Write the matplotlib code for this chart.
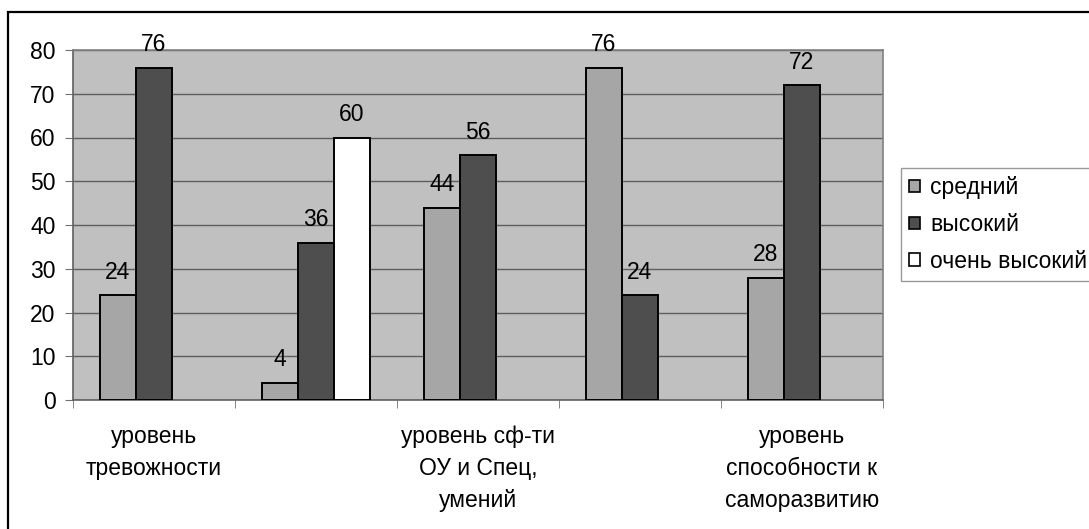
import numpy as np
import matplotlib
matplotlib.use("Agg")
import matplotlib.pyplot as plt
from matplotlib.patches import Patch, Rectangle

plt.rcParams['font.family'] = ['Liberation Sans', 'DejaVu Sans']

categories = ["уровень\nтревожности", "", "уровень сф-ти\nОУ и Спец,\nумений", "", "уровень\nспособности к\nсаморазвитию"]
series_names = ["средний", "высокий", "очень высокий"]
srednij = [24, 4, 44, 76, 28]
vysokij = [76, 36, 56, 24, 72]
ochen_vysokij = [np.nan, 60, np.nan, np.nan, np.nan]
y_ticks = [0, 10, 20, 30, 40, 50, 60, 70, 80]

colors = ["#a6a6a6", "#4e4e4e", "#ffffff"]
W, H = 1089, 529
fig = plt.figure(figsize=(W / 100, H / 100), dpi=100)
fig.patch.set_facecolor("white")

ax = fig.add_axes([73 / W, 1 - 400 / H, 810 / W, 350 / H])
ax.set_facecolor("#c0c0c0")

n = len(categories)
x = np.arange(n)
bw = 1 / 4.5
all_series = [srednij, vysokij, ochen_vysokij]
for i, (vals, col) in enumerate(zip(all_series, colors)):
    vals = np.array(vals, dtype=float)
    pos = x + (i - 1) * bw
    mask = ~np.isnan(vals)
    ax.bar(pos[mask], vals[mask], width=bw, color=col, edgecolor="black",
           linewidth=1.4, zorder=3, label=series_names[i])
    for p, v in zip(pos[mask], vals[mask]):
        ax.annotate(f"{int(v)}", (p, v), xytext=(0, 8), textcoords="offset points",
                    ha="center", va="bottom", fontsize=16.5, color="black", zorder=4)

ax.set_xlim(-0.5, n - 0.5)
ax.set_ylim(0, 80)
ax.set_yticks(y_ticks)
ax.yaxis.grid(True, color="#5e5e5e", linewidth=1, zorder=1)
ax.set_axisbelow(True)
ax.tick_params(axis="y", direction="out", length=6, color="#707070", labelsize=16.5, pad=6.5)

ax.set_xticks(x)
ax.set_xticklabels(categories, fontsize=16.5, linespacing=1.5)
ax.tick_params(axis="x", which="major", length=0, pad=18)
ax.set_xticks(np.arange(-0.5, n, 1), minor=True)
ax.tick_params(axis="x", which="minor", direction="out", length=6, color="#707070")

for s in ax.spines.values():
    s.set_color("#808080")
    s.set_linewidth(1.2)
ax.spines["bottom"].set_color("#606060")
ax.spines["left"].set_color("#606060")

handles = [Patch(facecolor=c, edgecolor="black", linewidth=1.2) for c in colors]
leg = fig.legend(handles, series_names, loc="upper left",
                 bbox_to_anchor=(901 / W, 1 - 168 / H), bbox_transform=fig.transFigure,
                 borderaxespad=0, fancybox=False, shadow=False, fontsize=16.5,
                 handlelength=0.45, handleheight=0.45, handletextpad=0.45,
                 labelspacing=0.6, borderpad=0.36)
leg.get_frame().set_edgecolor("#808080")
leg.get_frame().set_linewidth(1)

border = Rectangle((8 / W, -0.1), 1.2, 1 - 12 / H + 0.1, transform=fig.transFigure,
                   fill=False, edgecolor="black", linewidth=1.6, zorder=10)
fig.patches.append(border)

fig.savefig("out.png", dpi=100)
